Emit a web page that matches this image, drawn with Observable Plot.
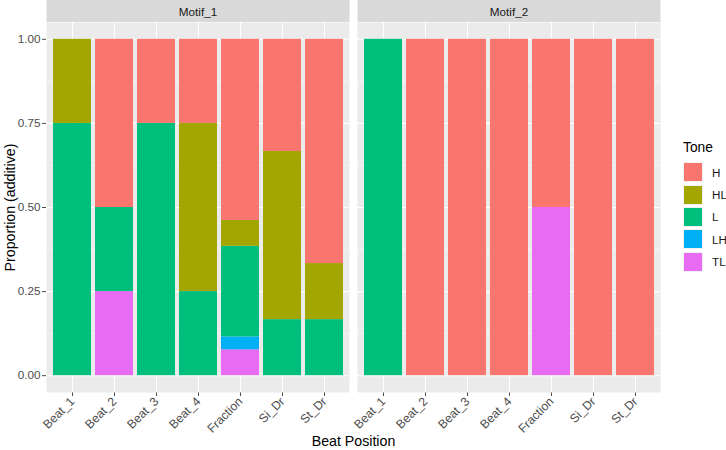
<!DOCTYPE html>
<html>
<head>
<meta charset="utf-8">
<script src="https://cdn.jsdelivr.net/npm/d3@7"></script>
<script src="https://cdn.jsdelivr.net/npm/@observablehq/plot@0.6"></script>
<style>
  html, body { margin: 0; padding: 0; background: white; }
  #wrap { position: relative; width: 726px; height: 450px; font-family: "Liberation Sans", Arial, Helvetica, sans-serif; }
  #legend { position: absolute; left: 683px; top: 141px; }
  #legend .title { font-size: 13.8px; color: #000; margin-bottom: 6px; line-height: 14px; }
  #legend .row { display: flex; align-items: center; height: 22.4px; }
  #legend .key { width: 20px; height: 20px; box-sizing: border-box; border: 0.5px solid #f2f2f2; }
  #legend .lab { font-size: 11.7px; color: #1A1A1A; margin-left: 9px; }
</style>
</head>
<body>
<div id="wrap"></div>
<script>
(function () {
const FONT = '"Liberation Sans", Arial, Helvetica, sans-serif';

const motifs = ["Motif_1", "Motif_2"];
const positions = ["Beat_1", "Beat_2", "Beat_3", "Beat_4", "Fraction", "Si_Dr", "St_Dr"];
const tones = ["H", "HL", "L", "LH", "TL"];
const toneColors = ["#F8766D", "#A3A500", "#00BF7D", "#00B0F6", "#E76BF3"];
const yTicks = [0, 0.25, 0.5, 0.75, 1];
const yMinor = [0.125, 0.375, 0.625, 0.875];

// Motif_1 proportions per tone, by beat position
const m1_H  = [0,    0.5,  0.25, 0.25, 14/26, 1/3, 2/3];
const m1_HL = [0.25, 0,    0,    0.5,  2/26,  0.5, 1/6];
const m1_L  = [0.75, 0.25, 0.75, 0.25, 7/26,  1/6, 1/6];
const m1_LH = [0,    0,    0,    0,    1/26,  0,   0];
const m1_TL = [0,    0.25, 0,    0,    2/26,  0,   0];
// Motif_2 proportions per tone, by beat position
const m2_H  = [0, 1, 1, 1, 0.5, 1, 1];
const m2_HL = [0, 0, 0, 0, 0,   0, 0];
const m2_L  = [1, 0, 0, 0, 0,   0, 0];
const m2_LH = [0, 0, 0, 0, 0,   0, 0];
const m2_TL = [0, 0, 0, 0, 0.5, 0, 0];

const series = {
  Motif_1: {H: m1_H, HL: m1_HL, L: m1_L, LH: m1_LH, TL: m1_TL},
  Motif_2: {H: m2_H, HL: m2_HL, L: m2_L, LH: m2_LH, TL: m2_TL}
};

// stack bottom-to-top: TL, LH, L, HL, H (ggplot puts first level on top)
const rows = [];
for (const motif of motifs) {
  for (const tone of tones.slice().reverse()) {
    positions.forEach((p, i) => rows.push({motif, position: p, tone, value: series[motif][tone][i]}));
  }
}

const chart = Plot.plot({
  width: 726, height: 450,
  marginLeft: 46, marginRight: 66, marginTop: 22, marginBottom: 58,
  style: {fontFamily: FONT, fontSize: "11.7px", color: "#4D4D4D", background: "white", overflow: "visible"},
  fx: {domain: motifs, paddingInner: 8 / 311, paddingOuter: 0, axis: null, label: null},
  x: {domain: positions, paddingInner: 0.1, paddingOuter: 0.15, tickRotate: -45, tickSize: 4, tickPadding: 3, label: null},
  y: {domain: [-0.05, 1.05], ticks: yTicks, tickFormat: d3.format(".2f"), tickSize: 4, tickPadding: 2, label: null},
  color: {domain: tones, range: toneColors},
  marks: [
    Plot.frame({fill: "#EBEBEB", stroke: null}),
    Plot.ruleY(yMinor, {stroke: "white", strokeWidth: 0.55}),
    Plot.ruleY(yTicks, {stroke: "white", strokeWidth: 1.1}),
    Plot.ruleX(positions, {stroke: "white", strokeWidth: 1.1}),
    Plot.barY(rows, Plot.stackY({fx: "motif", x: "position", y: "value", fill: "tone", z: "tone", inset: 0}))
  ]
});

const wrap = document.getElementById("wrap");
wrap.appendChild(chart);

// decorate: strips, axis titles, tick colour
const svg = d3.select(chart);
svg.selectAll('g[aria-label="x-axis tick"], g[aria-label="y-axis tick"]').attr("stroke", "#333333");
svg.selectAll('g[aria-label="x-axis tick label"] text').style("font-size", "12.2px");
const svgBox = chart.getBoundingClientRect();
const frames = chart.querySelectorAll('g[aria-label="frame"] rect');
const boxes = Array.from(frames).map(r => {
  const b = r.getBoundingClientRect();
  return {x: b.left - svgBox.left, y: b.top - svgBox.top, w: b.width, h: b.height};
}).sort((a, b) => a.x - b.x);

boxes.forEach((b, i) => {
  svg.append("rect").attr("x", b.x).attr("y", 0).attr("width", b.w).attr("height", b.y - 0.5)
    .attr("fill", "#D9D9D9");
  svg.append("text").attr("x", b.x + b.w / 2).attr("y", b.y / 2 + 4.8)
    .attr("text-anchor", "middle").attr("fill", "#1A1A1A")
    .style("font-family", FONT).style("font-size", "11.7px").text(motifs[i]);
});

const pLeft = boxes[0].x, pRight = boxes[boxes.length - 1].x + boxes[boxes.length - 1].w;
const pTop = boxes[0].y, pBottom = boxes[0].y + boxes[0].h;
svg.append("text").attr("x", (pLeft + pRight) / 2).attr("y", 446)
  .attr("text-anchor", "middle").attr("fill", "#000")
  .style("font-family", FONT).style("font-size", "14.2px").text("Beat Position");
svg.append("text").attr("transform", `translate(14.5,${(pTop + pBottom) / 2}) rotate(-90)`)
  .attr("text-anchor", "middle").attr("fill", "#000")
  .style("font-family", FONT).style("font-size", "14.2px").text("Proportion (additive)");

// legend
const legend = document.createElement("div");
legend.id = "legend";
legend.innerHTML = `<div class="title">Tone</div>` +
  tones.map((t, i) => `<div class="row"><div class="key" style="background:${toneColors[i]}"></div><div class="lab">${t}</div></div>`).join("");
wrap.appendChild(legend);
})();
</script>
</body>
</html>
